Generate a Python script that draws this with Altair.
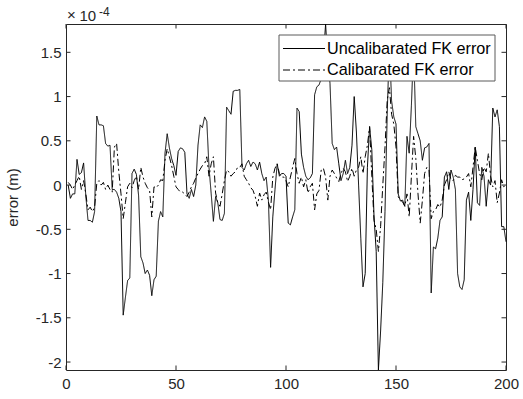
import altair as alt
import pandas as pd

# ---- data (values in units of 1e-4 m) ----
x_vals = list(range(1, 201))
uncal = [
    0.0, -0.15, -0.1, -0.1, 0.29, 0.12, 0.14, 0.25, -0.12, -0.4,
    -0.4, -0.42, -0.3, 0.78, 0.68, 0.68, 0.67, 0.47, 0.44, 0.45,
    -0.05, -0.05, -0.08, -0.15, -0.3, -1.47, -1.27, -1.08, -1.05, 0.13,
    0.18, 0.12, -0.12, -0.81, -0.88, -1.0, -0.96, -1.02, -1.25, -1.07,
    -1.03, -0.41, -0.3, -0.36, 0.36, 0.58, 0.42, 0.3, 0.22, 0.11,
    0.38, 0.42, 0.41, 0.37, -0.1, -0.15, -0.05, -0.13, 0.0, 0.45,
    0.68, 0.65, 0.77, 0.72, 0.2, -0.1, -0.41, -0.13, -0.2, -0.39,
    -0.4, -0.32, 0.88, 0.84, 0.8, 1.06, 1.07, 1.07, 1.08, 0.2,
    0.17, 0.24, 0.28, 0.21, 0.26, 0.24, 0.17, 0.26, 0.13, 0.05,
    0.09, -0.17, -0.93, -0.36, -0.05, 0.24, 0.1, 0.13, 0.13, 0.1,
    -0.43, -0.45, -0.36, -0.28, 0.87, 0.83, 0.35, 0.2, 0.1, 0.06,
    0.08, 0.13, 1.02, 1.11, 1.13, 1.2, 1.45, 1.82, 1.4, 1.15,
    0.47, 0.4, 0.43, 0.24, 0.05, 0.13, 0.28, 0.13, 0.2, 0.45,
    1.0, 0.6, 0.0, -0.6, -1.15, -1.0, 0.2, 0.66, 0.4, -0.35,
    -0.75, -2.09, -1.65, -1.1, -0.3, 0.8, 1.6, 0.95, 0.77, 0.69,
    -0.1, -0.18, -0.17, -0.24, 0.55, 0.36, 0.9, 1.55, 0.66, 0.58,
    0.5, 0.28, 0.42, 0.43, 0.47, -1.22, -0.7, -0.72, -0.6, -0.4,
    -0.36, 0.09, 0.15, -0.05, 0.17, 0.09, -0.05, -1.0, -1.15, -1.18,
    -1.07, -0.17, -0.08, -0.4, -0.05, 0.43, -0.2, -0.23, 0.2, 0.1,
    -0.24, 0.06, 0.0, 0.87, 0.77, 0.85, 0.66, -0.47, -0.47, -0.64,
]
cal = [
    0.03, 0.0, -0.05, 0.0, 0.05, 0.1, -0.05, 0.05, -0.1, -0.28,
    -0.25, -0.3, -0.25, 0.02, 0.05, 0.0, 0.03, -0.05, 0.0, -0.05,
    -0.08, 0.43, 0.47, 0.15, -0.1, -0.38, -0.2, -0.02, 0.02, -0.03,
    0.05, 0.1, -0.05, 0.2, 0.09, 0.02, -0.03, -0.06, -0.36, -0.02,
    -0.03, 0.0, 0.06, 0.05, 0.28, 0.41, 0.32, 0.22, 0.1, -0.02,
    -0.05, -0.08, -0.08, -0.1, -0.13, -0.08, -0.02, 0.02, 0.08, 0.13,
    0.18, 0.22, 0.24, 0.32, 0.1, 0.24, 0.32, -0.09, -0.2, -0.24,
    -0.1, 0.05, 0.17, 0.15, 0.1, 0.13, 0.15, 0.2, 0.2, 0.24,
    0.1, 0.06, 0.02, -0.03, -0.06, -0.13, -0.24, -0.09, -0.17, -0.11,
    -0.08, -0.19, -0.28, 0.09, 0.19, 0.24, 0.13, 0.09, 0.09, 0.05,
    -0.02, 0.09, 0.2, 0.3, 0.13, 0.02, 0.09, -0.02, 0.06, -0.09,
    -0.02, 0.02, -0.28, -0.1, -0.06, 0.17, 0.19, 0.09, -0.17, 0.1,
    0.17, 0.13, 0.08, 0.04, 0.13, 0.19, 0.15, 0.04, 0.1, 0.19,
    0.1, 0.17, 0.2, 0.32, 0.13, 0.32, 0.45, 0.66, 0.1, -0.4,
    -0.5, -0.75, -0.47, 0.0, 0.43, 0.96, 1.1, 0.8, 0.69, 0.43,
    -0.13, -0.17, -0.19, -0.24, -0.1, -0.36, 0.1, 0.55, 0.3, -0.1,
    -0.43, -0.17, 0.13, 0.2, 0.17, -0.38, -0.3, -0.28, -0.22, -0.25,
    -0.17, 0.0, 0.06, 0.15, 0.06, 0.05, 0.11, 0.09, 0.09, 0.06,
    0.07, 0.09, 0.13, -0.02, 0.2, 0.43, 0.28, 0.13, 0.06, 0.2,
    0.15, 0.36, 0.1, -0.02, 0.05, -0.2, -0.09, 0.06, -0.02, 0.0,
]
series_names = ["Uncalibarated FK error", "Calibarated FK error"]
x_ticks = [0, 50, 100, 150, 200]
y_ticks = [-2, -1.5, -1, -0.5, 0, 0.5, 1, 1.5]
x_domain = [0, 200]
y_domain = [-2.09, 1.82]

# ---- layout / style ----
W, H = 440, 346
FONT = "Liberation Sans"
INK = "#262626"
TICK = 4.5
DASHES = [[1, 0], [7, 3, 2, 3]]

df = pd.DataFrame({
    "x": x_vals + x_vals,
    "y": uncal + cal,
    "series": [series_names[0]] * len(uncal) + [series_names[1]] * len(cal),
})

xs = alt.Scale(domain=x_domain, nice=False, zero=False)
ys = alt.Scale(domain=y_domain, nice=False, zero=False)
x_axis = alt.Axis(values=x_ticks, title=None, labelExpr="'' + datum.value",
                  labelPadding=6, labelFlush=False)
y_axis = alt.Axis(values=y_ticks, title="error (m)", labelExpr="'' + datum.value",
                  labelPadding=5, titlePadding=15, labelFlush=False)

lines = alt.Chart(df).mark_line(strokeWidth=1, color="black").encode(
    x=alt.X("x:Q", scale=xs, axis=x_axis),
    y=alt.Y("y:Q", scale=ys, axis=y_axis),
    strokeDash=alt.StrokeDash("series:N",
                              scale=alt.Scale(domain=series_names, range=DASHES),
                              legend=None),
    order=alt.Order("x:Q"),
)

xt = pd.DataFrame({"t": x_ticks})
yt = pd.DataFrame({"t": y_ticks})
rule = dict(color=INK, strokeWidth=1)
bottom_ticks = alt.Chart(xt).mark_rule(**rule).encode(
    x=alt.X("t:Q", scale=xs, axis=x_axis), y=alt.value(H), y2=alt.value(H - TICK))
top_ticks = alt.Chart(xt).mark_rule(**rule).encode(
    x=alt.X("t:Q", scale=xs, axis=x_axis), y=alt.value(0), y2=alt.value(TICK))
left_ticks = alt.Chart(yt).mark_rule(**rule).encode(
    y=alt.Y("t:Q", scale=ys, axis=y_axis), x=alt.value(0), x2=alt.value(TICK))
right_ticks = alt.Chart(yt).mark_rule(**rule).encode(
    y=alt.Y("t:Q", scale=ys, axis=y_axis), x=alt.value(W), x2=alt.value(W - TICK))

# ---- legend (drawn by hand, MATLAB style) ----
one = pd.DataFrame({"k": [0]})
leg_box = alt.Chart(one).mark_rect(fill="white", stroke="#5a5a5a", strokeWidth=1).encode(
    x=alt.value(213), x2=alt.value(429), y=alt.value(11), y2=alt.value(57))
leg_layers = [leg_box]
for i, name in enumerate(series_names):
    yy = 24.5 + 21.5 * i
    leg_layers.append(
        alt.Chart(one).mark_rule(color="black", strokeWidth=1, strokeDash=DASHES[i]).encode(
            x=alt.value(217), x2=alt.value(259), y=alt.value(yy)))
    leg_layers.append(
        alt.Chart(pd.DataFrame({"name": [name]})).mark_text(
            align="left", baseline="middle", font=FONT, fontSize=16.2, color="black").encode(
            x=alt.value(261), y=alt.value(yy), text="name:N"))

# ---- exponent label ----
exp_times = alt.Chart(one).mark_text(align="left", baseline="alphabetic", font=FONT,
                                     fontSize=15, color=INK).encode(
    x=alt.value(1), y=alt.value(-4), text=alt.value("×"))
exp_base = alt.Chart(one).mark_text(align="left", baseline="alphabetic", font=FONT,
                                    fontSize=15, color=INK).encode(
    x=alt.value(13.5), y=alt.value(-3.5), text=alt.value("10"))
exp_pow = alt.Chart(one).mark_text(align="left", baseline="alphabetic", font=FONT,
                                   fontSize=12, color=INK).encode(
    x=alt.value(33), y=alt.value(-8), text=alt.value("-4"))

chart = alt.layer(
    lines, bottom_ticks, top_ticks, left_ticks, right_ticks,
    *leg_layers, exp_times, exp_base, exp_pow,
).properties(
    width=W, height=H,
    autosize=alt.AutoSizeParams(type="none"),
    padding={"left": 66, "top": 24, "right": 17, "bottom": 29},
    background="white",
).configure_view(
    stroke=INK, strokeWidth=1,
).configure_axis(
    domain=False, ticks=False, grid=False,
    labelFont=FONT, labelFontSize=15, labelColor=INK,
    titleFont=FONT, titleFontSize=15, titleFontWeight="normal", titleColor=INK,
)

chart.save("out.html", embed_options={"renderer": "svg", "actions": False})
